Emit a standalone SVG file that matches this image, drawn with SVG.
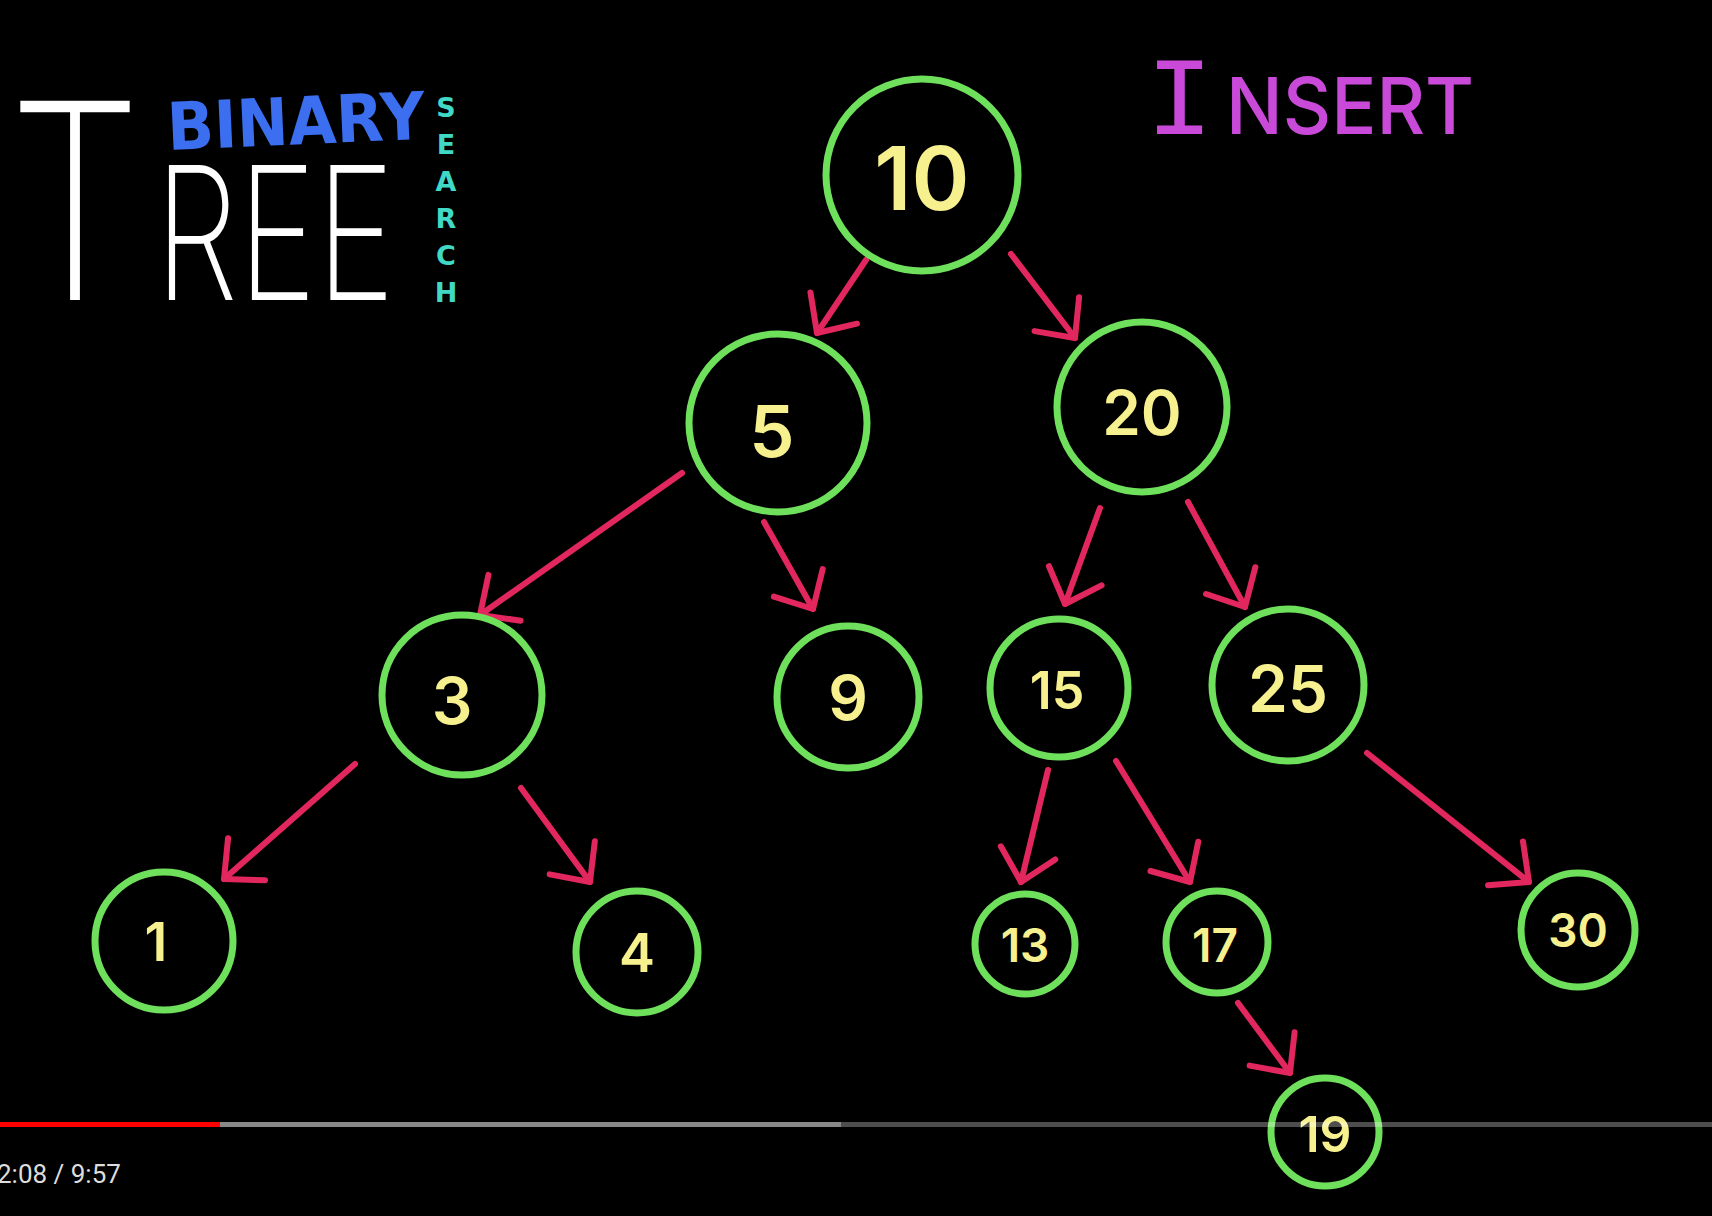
<svg xmlns="http://www.w3.org/2000/svg" width="1712" height="1216" viewBox="0 0 1712 1216">
<defs>
<style>
.node{fill:none;stroke:#6fe05c;stroke-width:7}
.num{fill:#f6f08e;font-family:Inter,"DejaVu Sans",sans-serif;font-weight:600;text-anchor:middle;dominant-baseline:central}
.edge{stroke:#e2275f;stroke-width:6;stroke-linecap:round;fill:none}
</style>
<marker id="ah" markerUnits="userSpaceOnUse" markerWidth="80" markerHeight="80" refX="0" refY="0" viewBox="-40 -40 80 80" orient="auto" overflow="visible">
<path d="M -30 -28 L 0 0 L -30 28" fill="none" stroke="#e2275f" stroke-width="6" stroke-linecap="round" stroke-linejoin="round"/>
</marker>
</defs>
<rect width="1712" height="1216" fill="#000"/>
<g id="title">
<text x="8" y="300" font-family="Inter, 'DejaVu Sans', sans-serif" font-weight="250" font-size="274" fill="#fff" textLength="134" lengthAdjust="spacingAndGlyphs">T</text>
<text x="155" y="300" font-family="Inter, 'DejaVu Sans', sans-serif" font-weight="250" font-size="185" fill="#fff" textLength="240" lengthAdjust="spacingAndGlyphs">REE</text>
<text x="168" y="150" transform="rotate(-2.5 168 150)" font-family="'DejaVu Sans', sans-serif" font-weight="bold" font-size="66" fill="#3b6ff0" textLength="258" lengthAdjust="spacingAndGlyphs">BINARY</text>
<text id="search" x="446" y="92" writing-mode="vertical-rl" style="text-orientation:upright" font-family="'DejaVu Sans', sans-serif" font-weight="bold" font-size="27" letter-spacing="6" fill="#3fd9c6">SEARCH</text>
<text x="1146" y="134" font-family="'Liberation Mono', monospace" font-size="112" fill="#c94ad9">I</text>
<text x="1226" y="134" font-family="Inter, 'DejaVu Sans', sans-serif" font-weight="500" font-size="78" fill="#c94ad9" textLength="248" lengthAdjust="spacingAndGlyphs">NSERT</text>
</g>
<g id="connectors">
<line class="edge" x1="866" y1="260" x2="817" y2="333" marker-end="url(#ah)"/>
<line class="edge" x1="1011" y1="254" x2="1075" y2="338" marker-end="url(#ah)"/>
<line class="edge" x1="682" y1="473" x2="480" y2="615" marker-end="url(#ah)"/>
<line class="edge" x1="764" y1="522" x2="813" y2="609" marker-end="url(#ah)"/>
<line class="edge" x1="1100" y1="508" x2="1065" y2="604" marker-end="url(#ah)"/>
<line class="edge" x1="1188" y1="502" x2="1245" y2="607" marker-end="url(#ah)"/>
<line class="edge" x1="355" y1="764" x2="224" y2="879" marker-end="url(#ah)"/>
<line class="edge" x1="521" y1="788" x2="590" y2="882" marker-end="url(#ah)"/>
<line class="edge" x1="1048" y1="770" x2="1021" y2="882" marker-end="url(#ah)"/>
<line class="edge" x1="1116" y1="761" x2="1190" y2="882" marker-end="url(#ah)"/>
<line class="edge" x1="1367" y1="753" x2="1529" y2="882" marker-end="url(#ah)"/>
<line class="edge" x1="1238" y1="1003" x2="1290" y2="1073" marker-end="url(#ah)"/>
</g>
<g id="n10"><circle class="node" cx="922" cy="175" r="96" stroke-width="11"/><text class="num" x="922" y="178" font-size="88">10</text></g>
<g id="n5"><circle class="node" cx="778" cy="423" r="89" stroke-width="8"/><text class="num" x="772" y="430" font-size="72">5</text></g>
<g id="n20"><circle class="node" cx="1142" cy="407" r="85" stroke-width="8"/><text class="num" x="1142" y="412" font-size="62">20</text></g>
<g id="n3"><circle class="node" cx="462" cy="695" r="80"/><text class="num" x="452" y="700" font-size="64">3</text></g>
<g id="n9"><circle class="node" cx="848" cy="697" r="71"/><text class="num" x="848" y="697" font-size="62">9</text></g>
<g id="n15"><circle class="node" cx="1059" cy="688" r="69"/><text class="num" x="1057" y="690" font-size="52">15</text></g>
<g id="n25"><circle class="node" cx="1288" cy="685" r="76"/><text class="num" x="1288" y="688" font-size="64">25</text></g>
<g id="n1"><circle class="node" cx="164" cy="941" r="69"/><text class="num" x="156" y="941" font-size="54">1</text></g>
<g id="n4"><circle class="node" cx="637" cy="952" r="61"/><text class="num" x="637" y="952" font-size="54">4</text></g>
<g id="n13"><circle class="node" cx="1025" cy="944" r="50" stroke-width="6"/><text class="num" x="1025" y="945" font-size="46">13</text></g>
<g id="n17"><circle class="node" cx="1217" cy="942" r="51" stroke-width="6"/><text class="num" x="1215" y="945" font-size="46">17</text></g>
<g id="n30"><circle class="node" cx="1578" cy="930" r="57" stroke-width="6"/><text class="num" x="1578" y="930" font-size="46">30</text></g>
<g id="n19"><circle class="node" cx="1325" cy="1132" r="54" stroke-width="6" stroke="#5cc84c"/><text class="num" x="1325" y="1134" font-size="50" font-weight="400" fill="#dcd690">19</text></g>
<g id="player">
<rect x="0" y="1122" width="220" height="5" fill="#f00"/>
<rect x="220" y="1122" width="621" height="5" fill="#888"/>
<rect x="841" y="1122" width="871" height="5" fill="#fff" fill-opacity="0.3"/>
<text x="-3" y="1183" font-family="Roboto, sans-serif" font-size="26" fill="#ddd">2:08 / 9:57</text>
</g>
</svg>
